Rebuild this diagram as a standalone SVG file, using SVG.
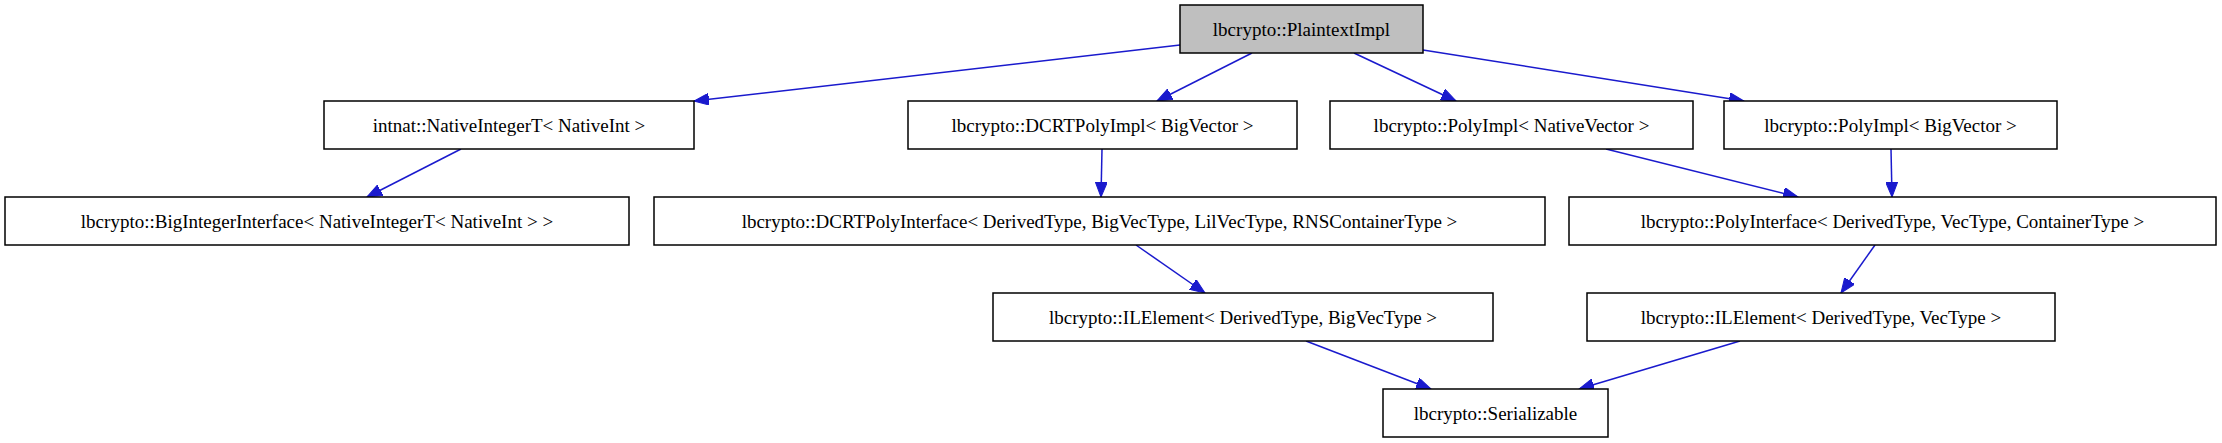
<svg xmlns="http://www.w3.org/2000/svg" width="2222" height="443" viewBox="0 0 2222 443">
<style>
rect{fill:#fff;stroke:#000;stroke-width:1.5}
#n0 rect{fill:#bfbfbf}
text{font-family:"Liberation Serif","DejaVu Serif",serif;font-size:19px;text-anchor:middle}
#edges line{stroke:#1a1acd;stroke-width:1.5}
</style>
<defs><marker id="a" markerUnits="userSpaceOnUse" markerWidth="16" markerHeight="12" refX="15" refY="6" orient="auto"><path d="M0,0L15,6L0,12z" fill="#1a1acd" stroke="#1a1acd"/></marker></defs>
<g id="edges" marker-end="url(#a)">
<line x1="1180" y1="45" x2="694" y2="101" marker-end="url(#a)"/>
<line x1="1252" y1="53" x2="1157" y2="101" marker-end="url(#a)"/>
<line x1="1354" y1="53" x2="1456" y2="101" marker-end="url(#a)"/>
<line x1="1423" y1="50" x2="1744" y2="101" marker-end="url(#a)"/>
<line x1="461" y1="149" x2="367" y2="197" marker-end="url(#a)"/>
<line x1="1102" y1="149" x2="1101" y2="197" marker-end="url(#a)"/>
<line x1="1606" y1="149" x2="1798" y2="197" marker-end="url(#a)"/>
<line x1="1891" y1="149" x2="1892" y2="197" marker-end="url(#a)"/>
<line x1="1136" y1="245" x2="1205" y2="293" marker-end="url(#a)"/>
<line x1="1875" y1="245" x2="1841" y2="293" marker-end="url(#a)"/>
<line x1="1306" y1="341" x2="1431" y2="389" marker-end="url(#a)"/>
<line x1="1740" y1="341" x2="1579" y2="389" marker-end="url(#a)"/>
</g>
<g id="n0"><rect x="1180" y="5" width="243" height="48"/><text x="1301.5" y="36">lbcrypto::PlaintextImpl</text></g>
<g id="n1"><rect x="324" y="101" width="370" height="48"/><text x="509" y="132">intnat::NativeIntegerT&lt; NativeInt &gt;</text></g>
<g id="n2"><rect x="908" y="101" width="389" height="48"/><text x="1102.5" y="132">lbcrypto::DCRTPolyImpl&lt; BigVector &gt;</text></g>
<g id="n3"><rect x="1330" y="101" width="363" height="48"/><text x="1511.5" y="132">lbcrypto::PolyImpl&lt; NativeVector &gt;</text></g>
<g id="n4"><rect x="1724" y="101" width="333" height="48"/><text x="1890.5" y="132">lbcrypto::PolyImpl&lt; BigVector &gt;</text></g>
<g id="n5"><rect x="5" y="197" width="624" height="48"/><text x="317" y="228">lbcrypto::BigIntegerInterface&lt; NativeIntegerT&lt; NativeInt &gt; &gt;</text></g>
<g id="n6"><rect x="654" y="197" width="891" height="48"/><text x="1099.5" y="228">lbcrypto::DCRTPolyInterface&lt; DerivedType, BigVecType, LilVecType, RNSContainerType &gt;</text></g>
<g id="n7"><rect x="1569" y="197" width="647" height="48"/><text x="1892.5" y="228">lbcrypto::PolyInterface&lt; DerivedType, VecType, ContainerType &gt;</text></g>
<g id="n8"><rect x="993" y="293" width="500" height="48"/><text x="1243" y="324">lbcrypto::ILElement&lt; DerivedType, BigVecType &gt;</text></g>
<g id="n9"><rect x="1587" y="293" width="468" height="48"/><text x="1821" y="324">lbcrypto::ILElement&lt; DerivedType, VecType &gt;</text></g>
<g id="n10"><rect x="1383" y="389" width="225" height="48"/><text x="1495.5" y="420">lbcrypto::Serializable</text></g>
</svg>
